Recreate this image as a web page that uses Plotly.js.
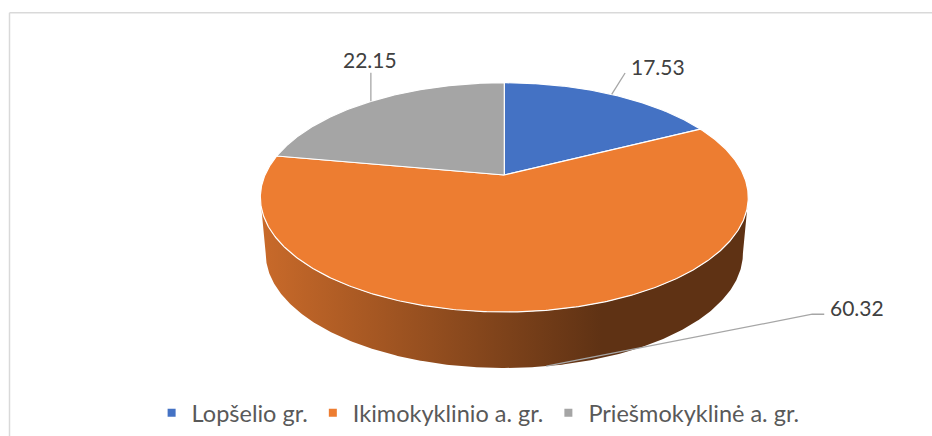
<!DOCTYPE html>
<html>
<head>
<meta charset="utf-8">
<script src="https://cdn.plot.ly/plotly-3.0.1.min.js"></script>
<style>
  html, body { margin: 0; padding: 0; background: #ffffff; overflow: hidden; }
  #chart { width: 932px; height: 436px; overflow: hidden; }
</style>
</head>
<body>
<div id="chart"></div>
<script>
// ---- data ----
const categories = ['Lopšelio gr.', 'Ikimokyklinio a. gr.', 'Priešmokyklinė a. gr.'];
const values = [17.53, 60.32, 22.15];
const colors = ['#4472C4', '#ED7D31', '#A5A5A5'];

// ---- 3D pie geometry (drawn on hidden pixel-like axes) ----
const W = 932, H = 436;
const CX = 504.3, CY = 175;      // projected pie centre
const RA = 239.3, RB = 110.3;    // horizontal / vertical radii
const K = 0.195;                 // perspective factor
const DEPTH = 56;                // thickness of the pie
const SHRINK = 0.978;            // bottom face slightly narrower
const STEP = Math.PI / 360;

function proj(t) {
  const u = Math.sin(t), v = Math.cos(t), w = 1 + K * v;
  return [CX + RA * u / w, CY - RB * v / w];
}
function shade(hex, f) {
  const n = parseInt(hex.slice(1), 16);
  const r = Math.round(((n >> 16) & 255) * f), g = Math.round(((n >> 8) & 255) * f), b = Math.round((n & 255) * f);
  return 'rgb(' + r + ',' + g + ',' + b + ')';
}
function arc(a0, a1) {
  const pts = [];
  const n = Math.max(2, Math.ceil((a1 - a0) / STEP));
  for (let i = 0; i <= n; i++) pts.push(proj(a0 + (a1 - a0) * i / n));
  return pts;
}

const total = values.reduce((a, b) => a + b, 0);
const starts = [], ends = [];
let acc = 0;
values.forEach(v => { starts.push(acc / total * 2 * Math.PI); acc += v; ends.push(acc / total * 2 * Math.PI); });

const traces = [];

// side walls (front half only)
const front0 = Math.acos(-K), front1 = 2 * Math.PI - front0;
const leftX = CX - RA / Math.sqrt(1 - K * K), rightX = CX + RA / Math.sqrt(1 - K * K);
values.forEach((v, i) => {
  const a0 = Math.max(starts[i], front0), a1 = Math.min(ends[i], front1);
  if (a1 <= a0) return;
  const top = arc(a0, a1);
  const bottom = top.slice().reverse().map(p => [CX + (p[0] - CX) * SHRINK, p[1] + DEPTH]);
  const pts = top.concat(bottom);
  pts.push(top[0]);
  traces.push({
    type: 'scatter', mode: 'lines', hoverinfo: 'skip', showlegend: false,
    x: pts.map(p => p[0]), y: pts.map(p => p[1]),
    fill: 'toself', line: { width: 0, color: 'rgba(0,0,0,0)' },
    fillcolor: shade(colors[i], 0.6),
    fillgradient: {
      type: 'horizontal', start: leftX, stop: rightX,
      colorscale: [[0, shade(colors[i], 0.85)], [0.7, shade(colors[i], 0.40)], [1, shade(colors[i], 0.40)]]
    }
  });
});

// top faces
values.forEach((v, i) => {
  const pts = [[CX, CY]].concat(arc(starts[i], ends[i]));
  pts.push([CX, CY]);
  traces.push({
    type: 'scatter', mode: 'lines', hoverinfo: 'skip', showlegend: false,
    x: pts.map(p => p[0]), y: pts.map(p => p[1]),
    fill: 'toself', fillcolor: colors[i],
    line: { color: '#ffffff', width: 1.2 }
  });
});

// leader lines & labels (positions relative to the slice's rim point)
const labelLayout = [
  { path: [[13.4, -21.4]], text: [17.5, -27.5], anchor: 'left', front: false },
  { path: [[266, -52], [278, -52]], text: [282, -59], anchor: 'left', front: true },
  { path: [[0, -28.5]], text: [-1, -41.5], anchor: 'center', front: false }
];
const annotations = [];
values.forEach((v, i) => {
  const mid = (starts[i] + ends[i]) / 2;
  const L = labelLayout[i];
  let p = proj(mid);
  if (L.front) p = [CX + (p[0] - CX) * SHRINK, p[1] + DEPTH];
  const pts = [p].concat(L.path.map(d => [p[0] + d[0], p[1] + d[1]]));
  traces.push({
    type: 'scatter', mode: 'lines', hoverinfo: 'skip', showlegend: false,
    x: pts.map(q => q[0]), y: pts.map(q => q[1]),
    line: { color: '#A6A6A6', width: 1.3 }
  });
  annotations.push({
    x: p[0] + L.text[0], y: p[1] + L.text[1], xref: 'x', yref: 'y',
    text: v.toFixed(2), showarrow: false, xanchor: L.anchor, yanchor: 'middle',
    font: { family: 'Lato, "Open Sans", sans-serif', size: 21, color: '#404040' }
  });
});

// legend entries
categories.forEach((c, i) => {
  traces.push({
    type: 'scatter', mode: 'markers', name: c, x: [null], y: [null],
    marker: { symbol: 'square', size: 8, color: colors[i] }, hoverinfo: 'skip'
  });
});

const layout = {
  width: W, height: H,
  margin: { l: 0, r: 0, t: 0, b: 0 },
  paper_bgcolor: '#ffffff', plot_bgcolor: '#ffffff',
  xaxis: { range: [0, W], visible: false, fixedrange: true, showline: false, zeroline: false, showgrid: false },
  yaxis: { range: [H, 0], visible: false, fixedrange: true, showline: false, zeroline: false, showgrid: false },
  showlegend: true,
  legend: {
    orientation: 'h', x: 0.513, xanchor: 'center', y: 1 - 413 / H, yanchor: 'middle',
    font: { family: 'Lato, "Open Sans", sans-serif', size: 23.5, color: '#595959' },
    bgcolor: 'rgba(0,0,0,0)', borderwidth: 0, itemclick: false, itemdoubleclick: false
  },
  annotations: annotations,
  shapes: [
    { type: 'line', xref: 'x', yref: 'y', x0: 9.5, y0: 12.8, x1: W + 20, y1: 12.8,
      line: { color: '#D9D9D9', width: 1.5 }, layer: 'below' },
    { type: 'line', xref: 'x', yref: 'y', x0: 9.5, y0: 12.8, x1: 9.5, y1: H + 20,
      line: { color: '#D9D9D9', width: 1.5 }, layer: 'below' }
  ],
  hovermode: false
};

Plotly.newPlot('chart', traces, layout, { staticPlot: true, displayModeBar: false });
</script>
</body>
</html>
